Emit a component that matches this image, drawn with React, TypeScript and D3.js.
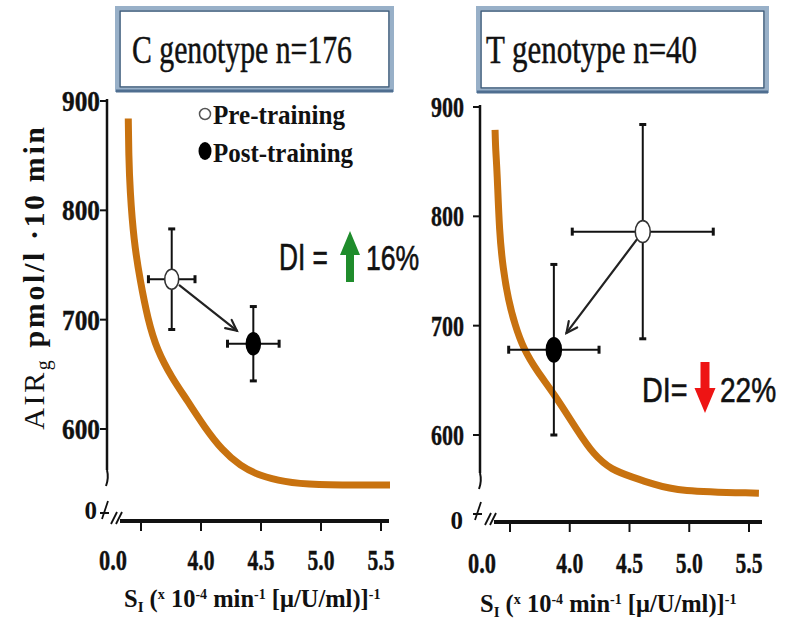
import React from "react";
import * as d3 from "d3";

// ---------- data ----------
const panelTitles = ["C genotype n=176", "T genotype n=40"];
const xTickValues = [3.5, 4.0, 4.5, 5.0, 5.5];
const xTickLabels = ["", "4.0", "4.5", "5.0", "5.5"];
const xOriginLabel = "0.0";
const yTickValues = [600, 700, 800, 900];
const yTickLabels = ["600", "700", "800", "900"];
const yOriginLabel = "0";

// pre-training (open circle) per panel
const preX = [3.756, 4.611];
const preY = [737, 786];
const preXErr = [0.194, 0.59];
const preYErr = [46, 98];
// post-training (filled circle) per panel
const postX = [4.436, 3.867];
const postY = [678, 678];
const postXErr = [0.215, 0.378];
const postYErr = [34, 78];

// hyperbolic reference curves
const curveCX = [3.394, 3.398, 3.408, 3.44, 3.492, 3.558, 3.633, 3.758, 3.883, 4.033, 4.175, 4.325, 4.492, 4.7, 4.908, 5.575];
const curveCY = [884, 850, 818.6, 772, 736.3, 699.7, 672.3, 646.7, 626.6, 601, 580.9, 566.3, 557.1, 551.6, 548.8, 548.8];
const curveTX = [3.375, 3.38, 3.392, 3.411, 3.442, 3.486, 3.542, 3.611, 3.725, 3.867, 4.067, 4.2, 4.35, 4.525, 4.7, 4.9, 5.583];
const curveTY = [879.0, 860, 842.4, 784.7, 752, 723.4, 700.5, 679.2, 658.4, 638.1, 603.5, 582, 568, 561.5, 555, 548.5, 546.8];
const curveXs = [curveCX, curveTX];
const curveYs = [curveCY, curveTY];

const diLabels = ["DI =", "DI="];
const diValues = ["16%", "22%"];
const diUp = [true, false];
const legendLabels = ["Pre-training", "Post-training"];

// ---------- layout ----------
const LAYOUT = [
  {
    xr: [141, 381], yr: [429, 101], axisX: 107, axisY: 521, axisTop: 99, axisBottom: 470,
    xAxisStart: 120, xAxisEnd: 389, box: [117, 8, 275, 82], titleX: 132, titleLen: 220,
    yLabelEnd: 100, yLabelLen: 38, zeroX: 97, zeroY: 519, xLabelY: 570, xTitleX: 124, xTitleY: 607,
    rx: 7, ry: 10,
    di: { textX: 279, valX: 366, base: 270, textSx: 0.73, valSx: 0.74, arrowX: 350, top: 231, bottom: 282, headH: 24, headW: 20, shaftW: 8 },
  },
  {
    xr: [510, 749], yr: [435, 107], axisX: 480, axisY: 522, axisTop: 105, axisBottom: 473,
    xAxisStart: 494, xAxisEnd: 762, box: [478, 8, 289, 83], titleX: 486, titleLen: 211,
    yLabelEnd: 464, yLabelLen: 33, zeroX: 463, zeroY: 529, xLabelY: 573, xTitleX: 480, xTitleY: 612,
    rx: 7.5, ry: 11,
    di: { textX: 642, valX: 720, base: 402, textSx: 0.8, valSx: 0.78, arrowX: 705, top: 362, bottom: 413, headH: 25, headW: 21, shaftW: 9 },
  },
];

const SERIF = "'Liberation Serif', 'Times New Roman', serif";
const SANS = "'Liberation Sans', Arial, sans-serif";
const ORANGE = "#c8720f";

function ErrorCross({ cx, cy, x1, x2, y1, y2, rx, ry, filled }: any) {
  return (
    <g stroke="#111" strokeWidth={2}>
      <line x1={x1} x2={x2} y1={cy} y2={cy} />
      <line x1={cx} x2={cx} y1={y1} y2={y2} />
      <line x1={x1} x2={x1} y1={cy - 4} y2={cy + 4} strokeWidth={3} />
      <line x1={x2} x2={x2} y1={cy - 4} y2={cy + 4} strokeWidth={3} />
      <line x1={cx - 3.5} x2={cx + 3.5} y1={y1} y2={y1} strokeWidth={3} />
      <line x1={cx - 3.5} x2={cx + 3.5} y1={y2} y2={y2} strokeWidth={3} />
      <ellipse cx={cx} cy={cy} rx={rx} ry={ry} fill={filled ? "#000" : "#fff"} stroke={filled ? "#000" : "#333"} strokeWidth={1.6} />
    </g>
  );
}

function Panel({ i }: { i: number }) {
  const L = LAYOUT[i];
  const x = d3.scaleLinear().domain([3.5, 5.5]).range(L.xr);
  const y = d3.scaleLinear().domain([600, 900]).range(L.yr);
  const line = d3
    .line<number>()
    .x((d) => x(curveXs[i][d]))
    .y((d) => y(curveYs[i][d]))
    .curve(d3.curveBasis);
  const idx = d3.range(curveXs[i].length);

  const pcx = x(preX[i]), pcy = y(preY[i]);
  const qcx = x(postX[i]), qcy = y(postY[i]);
  const dx = qcx - pcx, dy = qcy - pcy, len = Math.hypot(dx, dy);
  const ux = dx / len, uy = dy / len;
  const sx = pcx + ux * 10, sy = pcy + uy * 10;
  const ex = qcx - ux * 21, ey = qcy - uy * 21;
  const ang = Math.atan2(uy, ux);
  const hl = 12, ha = (26 * Math.PI) / 180;
  const h1 = [ex - hl * Math.cos(ang - ha), ey - hl * Math.sin(ang - ha)];
  const h2 = [ex - hl * Math.cos(ang + ha), ey - hl * Math.sin(ang + ha)];

  const [bx, by, bw, bh] = L.box;
  const D = L.di;
  const color = diUp[i] ? "#1f8c2c" : "#ee1414";
  let arrowPath: string;
  if (diUp[i]) {
    const hb = D.top + D.headH;
    arrowPath = `M${D.arrowX},${D.top} L${D.arrowX + D.headW / 2},${hb} L${D.arrowX + D.shaftW / 2},${hb} L${D.arrowX + D.shaftW / 2},${D.bottom} L${D.arrowX - D.shaftW / 2},${D.bottom} L${D.arrowX - D.shaftW / 2},${hb} L${D.arrowX - D.headW / 2},${hb} Z`;
  } else {
    const hb = D.bottom - D.headH;
    arrowPath = `M${D.arrowX},${D.bottom} L${D.arrowX + D.headW / 2},${hb} L${D.arrowX + D.shaftW / 2},${hb} L${D.arrowX + D.shaftW / 2},${D.top} L${D.arrowX - D.shaftW / 2},${D.top} L${D.arrowX - D.shaftW / 2},${hb} L${D.arrowX - D.headW / 2},${hb} Z`;
  }

  return (
    <g>
      {/* title box */}
      <rect x={bx} y={by} width={bw} height={bh} fill="#fff" stroke="#98b0c8" strokeWidth={4} />
      <rect x={bx + 3} y={by + 3} width={bw - 6} height={bh - 6} fill="#fff" stroke="#3f5e7e" strokeWidth={1.6} />
      <line x1={bx - 1} x2={bx + bw + 1} y1={by + bh + 1} y2={by + bh + 1} stroke="#4f6e90" strokeWidth={3} />
      <text x={L.titleX} y={by + 55} fontFamily={SERIF} fontSize={41} fill="#111" stroke="#111" strokeWidth={0.5} textLength={L.titleLen} lengthAdjust="spacingAndGlyphs">
        {panelTitles[i]}
      </text>

      {/* y axis */}
      <line x1={L.axisX} x2={L.axisX} y1={L.axisTop} y2={L.axisBottom} stroke="#111" strokeWidth={2.5} />
      <path d={`M${L.axisX},${L.axisBottom} q2,8 -1,16`} fill="none" stroke="#111" strokeWidth={2} />
      {yTickValues.map((v, k) => (
        <g key={v}>
          <line x1={L.axisX - 7} x2={L.axisX} y1={y(v)} y2={y(v)} stroke="#111" strokeWidth={2} />
          <text x={L.yLabelEnd} y={y(v)} dy="0.35em" textAnchor="end" fontFamily={SERIF} fontWeight="bold" fontSize={29} fill="#111" stroke="#111" strokeWidth={0.4} textLength={L.yLabelLen} lengthAdjust="spacingAndGlyphs">
            {yTickLabels[k]}
          </text>
        </g>
      ))}
      <text x={L.zeroX} y={L.zeroY} textAnchor="end" fontFamily={SERIF} fontWeight="bold" fontSize={25} fill="#111">
        {yOriginLabel}
      </text>
      {/* break marks */}
      <g stroke="#111" strokeWidth={1.8} fill="none">
        <path d={`M${L.axisX - 5},${L.axisY - 2} L${L.axisX + 1},${L.axisY - 20} M${L.axisX - 7},${L.axisY - 8} L${L.axisX + 2},${L.axisY - 8}`} />
        <line x1={L.xAxisStart - 9} y1={L.axisY + 3} x2={L.xAxisStart - 3} y2={L.axisY - 9} />
        <line x1={L.xAxisStart - 4} y1={L.axisY + 3} x2={L.xAxisStart + 2} y2={L.axisY - 9} />
      </g>

      {/* x axis */}
      <line x1={L.xAxisStart} x2={L.xAxisEnd} y1={L.axisY} y2={L.axisY} stroke="#111" strokeWidth={4} />
      {xTickValues.map((v, k) => (
        <g key={v}>
          <line x1={x(v)} x2={x(v)} y1={L.axisY} y2={L.axisY + 10} stroke="#111" strokeWidth={2} />
          {xTickLabels[k] && (
            <text x={x(v)} y={L.xLabelY} textAnchor="middle" fontFamily={SERIF} fontWeight="bold" fontSize={29} fill="#111" stroke="#111" strokeWidth={0.4} textLength={27} lengthAdjust="spacingAndGlyphs">
              {xTickLabels[k]}
            </text>
          )}
        </g>
      ))}
      <text x={x(3.5) - 28} y={L.xLabelY} textAnchor="middle" fontFamily={SERIF} fontWeight="bold" fontSize={29} fill="#111" stroke="#111" strokeWidth={0.4} textLength={28} lengthAdjust="spacingAndGlyphs">
        {xOriginLabel}
      </text>

      {/* x title */}
      <text x={L.xTitleX} y={L.xTitleY} fontFamily={SERIF} fontWeight="bold" fontSize={24.5} fill="#111">
        S<tspan fontSize={15} dy={5}>I</tspan>
        <tspan dy={-5}> (</tspan>
        <tspan fontSize={14} dy={-8}>x</tspan>
        <tspan dy={8}> 10</tspan>
        <tspan fontSize={14} dy={-8}>-4</tspan>
        <tspan dy={8}> min</tspan>
        <tspan fontSize={14} dy={-8}>-1</tspan>
        <tspan dy={8}> [μ/U/ml)]</tspan>
        <tspan fontSize={14} dy={-8}>-1</tspan>
      </text>

      {/* curve */}
      <path d={line(idx) || ""} fill="none" stroke={ORANGE} strokeWidth={7} />

      {/* arrow between points */}
      <g stroke="#222" strokeWidth={2.2} fill="none" strokeLinecap="round">
        <line x1={sx} y1={sy} x2={ex} y2={ey} />
        <polyline points={`${h1[0]},${h1[1]} ${ex},${ey} ${h2[0]},${h2[1]}`} />
      </g>

      <ErrorCross cx={pcx} cy={pcy} x1={x(preX[i] - preXErr[i])} x2={x(preX[i] + preXErr[i])} y1={y(preY[i] + preYErr[i])} y2={y(preY[i] - preYErr[i])} rx={L.rx} ry={L.ry} filled={false} />
      <ErrorCross cx={qcx} cy={qcy} x1={x(postX[i] - postXErr[i])} x2={x(postX[i] + postXErr[i])} y1={y(postY[i] + postYErr[i])} y2={y(postY[i] - postYErr[i])} rx={L.rx} ry={L.ry + 1} filled={true} />

      {/* DI annotation */}
      <text transform={`translate(${D.textX},${D.base}) scale(${D.textSx},1)`} fontFamily={SANS} fontSize={36} fill="#111" stroke="#111" strokeWidth={0.6}>
        {diLabels[i]}
      </text>
      <path d={arrowPath} fill={color} />
      <text transform={`translate(${D.valX},${D.base}) scale(${D.valSx},1)`} fontFamily={SANS} fontSize={36} fill="#111" stroke="#111" strokeWidth={0.6}>
        {diValues[i]}
      </text>
    </g>
  );
}

export default function App() {
  return (
    <svg width={788} height={626} viewBox="0 0 788 626" style={{ display: "block", position: "absolute", left: 0, top: 0, background: "#fff" }}>
      <rect x={0} y={0} width={788} height={626} fill="#fff" />
      {/* y-axis title */}
      <text transform="translate(44,277) rotate(-90)" textAnchor="middle" fontFamily={SERIF} fontSize={30} fill="#111" letterSpacing={2.6}>
        AIR<tspan fontSize={20} dy={6}>g</tspan>
        <tspan dy={-6} fontWeight="bold"> pmol/l ·10 min</tspan>
      </text>

      {/* legend */}
      <circle cx={205} cy={114} r={5.5} fill="#fff" stroke="#555" strokeWidth={1.5} />
      <text x={213} y={124} fontFamily={SERIF} fontWeight="bold" fontSize={28} fill="#111" textLength={132} lengthAdjust="spacingAndGlyphs">
        {legendLabels[0]}
      </text>
      <ellipse cx={205} cy={151} rx={6.5} ry={9} fill="#000" />
      <text x={213} y={162} fontFamily={SERIF} fontWeight="bold" fontSize={28} fill="#111" textLength={140} lengthAdjust="spacingAndGlyphs">
        {legendLabels[1]}
      </text>

      <Panel i={0} />
      <Panel i={1} />
    </svg>
  );
}
